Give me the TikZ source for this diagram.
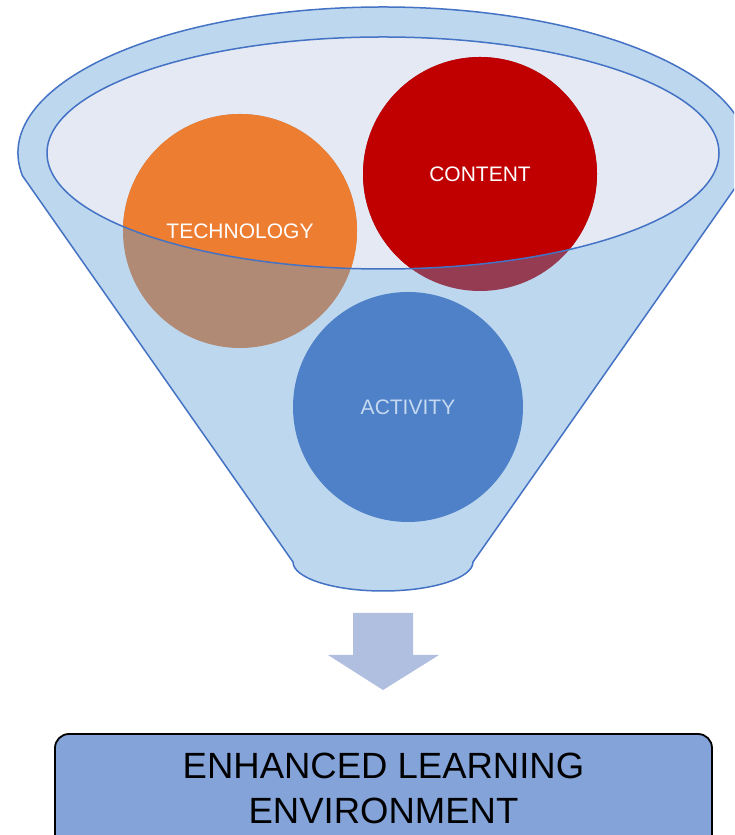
\documentclass[tikz,border=0pt]{standalone}
\usepackage{fontspec}
\setmainfont{Liberation Sans}
\definecolor{funnelfill}{HTML}{BDD7EE}
\definecolor{funnelline}{HTML}{4472C4}
\definecolor{innerfill}{HTML}{E4E9F4}
\definecolor{orangeC}{HTML}{ED7D31}
\definecolor{orangeD}{HTML}{B08A74}
\definecolor{redC}{HTML}{C00000}
\definecolor{redD}{HTML}{963C52}
\definecolor{blueD}{HTML}{4E81C8}
\definecolor{actText}{HTML}{C5D9F0}
\definecolor{arrowfill}{HTML}{B0BEDF}
\definecolor{boxfill}{HTML}{84A3D9}
\tikzset{
  ball/.style={circle, draw=none, inner sep=0pt, minimum size=234pt},
  lbl/.style={font=\fontsize{21}{25}\selectfont, inner sep=0pt},
  bigtext/.style={font=\fontsize{36.5}{44}\selectfont, inner sep=0pt, anchor=base, text=black},
  outline/.style={draw=funnelline, line width=1.5pt}
}
\begin{document}
\begin{tikzpicture}[x=1pt,y=1pt]
\useasboundingbox (0,0) rectangle (734,835);
\clip (0,0) rectangle (734,835);
% funnel body
\draw[outline, fill=funnelfill, line join=round]
  (293,273) -- ([shift={(383,682)}]189:365pt and 146pt)
  arc[start angle=189, end angle=-9, x radius=365pt, y radius=146pt]
  -- (473,273)
  arc[start angle=0, end angle=-180, x radius=90pt, y radius=29pt]
  -- cycle;
% inner opening
\fill[innerfill] (383,682) ellipse[x radius=336pt, y radius=116pt];
% balls (part seen through the funnel wall)
\node[ball, fill=orangeD] (tech) at (240,604) {};
\node[ball, fill=redD] (content) at (480,661) {};
\node[ball, fill=blueD, minimum size=230pt] (activity) at (408,428) {};
% balls (part seen through the opening)
\begin{scope}
  \clip (383,682) ellipse[x radius=336pt, y radius=116pt];
  \fill[orangeC] (tech.center) circle[radius=117pt];
  \fill[redC] (content.center) circle[radius=117pt];
\end{scope}
\draw[outline] (383,682) ellipse[x radius=336pt, y radius=116pt];
% labels
\node[lbl, text=white] (techlbl) at (tech.center) {TECHNOLOGY};
\node[lbl, text=white] (contentlbl) at (content.center) {CONTENT};
\node[lbl, text=actText] (activitylbl) at (activity.center) {ACTIVITY};
% block arrow
\fill[arrowfill] (353,222) -- (413,222) -- (413,180) -- (439,180) -- (383,145)
  -- (328,180) -- (353,180) -- cycle;
% result box
\draw[fill=boxfill, line width=1.8pt, rounded corners=14pt] (55,101) rectangle (712,-40);
\node[bigtext] (line1) at (383.5,56) {ENHANCED LEARNING};
\node[bigtext] (line2) at (383.5,12) {ENVIRONMENT};
\end{tikzpicture}
\end{document}
